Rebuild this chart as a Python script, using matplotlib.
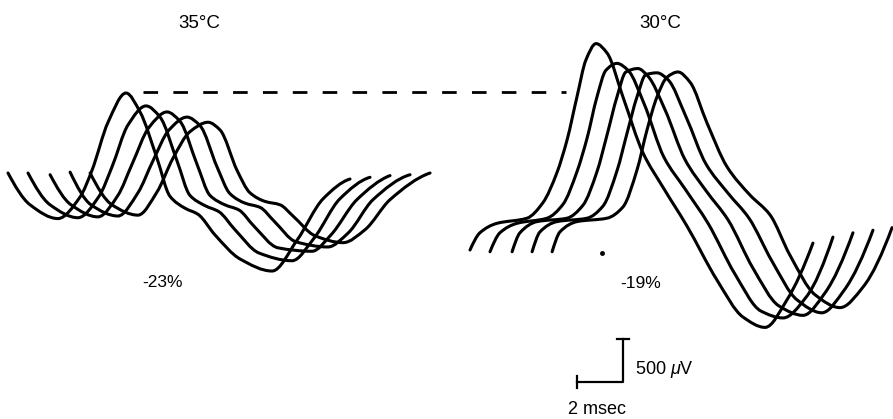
import numpy as np
import matplotlib
matplotlib.use("Agg")
import matplotlib.pyplot as plt
from matplotlib.path import Path
from matplotlib.patches import PathPatch

plt.rcParams['font.family'] = ['Liberation Sans', 'DejaVu Sans']
plt.rcParams['mathtext.fontset'] = 'custom'
plt.rcParams['mathtext.rm'] = 'Liberation Sans'
plt.rcParams['mathtext.it'] = 'Liberation Sans:italic'
plt.rcParams['lines.scale_dashes'] = False

# 35 C traces: time (msec) and voltage (uV), 5 successive sweeps
t35 = [
    [0.00, 0.96, 2.17, 3.13, 3.65, 4.35, 5.13, 5.74, 6.48, 7.04, 7.70, 8.26, 9.00, 10.09, 11.48, 12.57, 13.70, 14.87],
    [0.87, 1.83, 3.04, 3.96, 4.52, 5.22, 6.00, 6.61, 7.35, 7.91, 8.57, 9.17, 9.87, 10.91, 12.35, 13.30, 14.43, 15.74],
    [1.83, 2.74, 3.91, 4.78, 5.39, 6.13, 6.91, 7.48, 8.22, 8.78, 9.43, 10.04, 10.70, 11.74, 13.22, 14.04, 15.17, 16.61],
    [2.70, 3.61, 4.78, 5.65, 6.30, 7.00, 7.78, 8.35, 9.09, 9.65, 10.30, 10.96, 11.57, 12.52, 13.91, 14.78, 15.87, 17.48],
    [3.57, 4.52, 5.65, 6.48, 7.17, 7.91, 8.70, 9.22, 9.96, 10.52, 11.17, 11.83, 12.39, 13.35, 14.57, 15.52, 16.61, 18.35],
]
uv35 = [
    [0, -370, -530, -280, 30, 590, 930, 710, 170, -270, -410, -480, -720, -1000, -1140, -780, -300, -70],
    [0, -370, -520, -270, 70, 560, 780, 650, 140, -260, -380, -450, -660, -930, -1020, -760, -300, -50],
    [-20, -370, -510, -260, 100, 530, 710, 600, 100, -260, -370, -430, -620, -870, -910, -720, -310, -30],
    [10, -370, -500, -230, 140, 500, 650, 550, 70, -240, -350, -400, -560, -800, -860, -700, -310, -20],
    [0, -370, -490, -220, 170, 480, 590, 500, 30, -230, -330, -370, -500, -730, -810, -660, -310, 0],
]

# 30 C traces
t30 = [
    [0.00, 0.43, 1.17, 2.48, 3.17, 3.78, 4.22, 4.65, 5.04, 5.48, 5.96, 6.65, 7.52, 8.39, 9.43, 10.74, 11.87, 12.83, 13.78, 14.91],
    [0.87, 1.30, 2.04, 3.35, 4.04, 4.65, 5.09, 5.52, 5.91, 6.39, 6.87, 7.57, 8.43, 9.35, 10.35, 11.52, 12.65, 13.61, 14.61, 15.78],
    [1.83, 2.17, 2.91, 4.22, 4.91, 5.52, 5.96, 6.39, 6.78, 7.30, 7.74, 8.48, 9.35, 10.26, 11.22, 12.30, 13.43, 14.48, 15.43, 16.65],
    [2.70, 3.04, 3.78, 5.09, 5.78, 6.39, 6.83, 7.26, 7.65, 8.13, 8.61, 9.39, 10.26, 11.22, 12.13, 13.13, 14.22, 15.30, 16.26, 17.52],
    [3.57, 3.91, 4.65, 5.96, 6.65, 7.26, 7.70, 8.13, 8.57, 9.04, 9.57, 10.30, 11.17, 12.17, 13.04, 13.91, 15.00, 16.09, 17.09, 18.35],
]
uv30 = [
    [0, 200, 310, 370, 550, 900, 1280, 1780, 2210, 2400, 2290, 1780, 1130, 730, 280, -350, -780, -900, -580, 80],
    [-20, 200, 310, 370, 530, 910, 1300, 1780, 2090, 2170, 2090, 1700, 1080, 710, 310, -280, -710, -790, -550, 150],
    [-20, 200, 330, 370, 520, 910, 1340, 1780, 2070, 2110, 2020, 1630, 1050, 690, 350, -210, -650, -760, -500, 200],
    [-20, 210, 330, 370, 510, 920, 1360, 1780, 2040, 2060, 1980, 1550, 1000, 660, 370, -130, -580, -730, -470, 230],
    [-20, 210, 330, 370, 500, 930, 1400, 1780, 2010, 2070, 1950, 1480, 970, 640, 410, -60, -520, -670, -430, 260],
]

temp_labels = ["35°C", "30°C"]
change_labels = ["-23%", "-19%"]
bar_ms = 2
bar_uv = 500

PX_MS = 23.0          # pixels per msec (from the 2 msec bar)
PX_UV = 43.0 / 500    # pixels per uV (from the 500 uV bar)
W, H = 893, 419


def smooth_path(t, v):
    # monotone cubic (pchip) segments drawn as bezier curves
    t = np.asarray(t, float)
    v = np.asarray(v, float)
    h = np.diff(t)
    d = np.diff(v) / h
    m = np.zeros_like(v)
    for k in range(1, len(v) - 1):
        if d[k - 1] * d[k] > 0:
            w1 = 2 * h[k] + h[k - 1]
            w2 = h[k] + 2 * h[k - 1]
            m[k] = (w1 + w2) / (w1 / d[k - 1] + w2 / d[k])
    for i, j, s in [(0, 1, 0), (-1, -2, -1)]:
        hs, ho = h[s], h[s + 1] if s == 0 else h[s - 1]
        ds, do = d[s], d[s + 1] if s == 0 else d[s - 1]
        e = ((2 * hs + ho) * ds - hs * do) / (hs + ho)
        if np.sign(e) != np.sign(ds):
            e = 0
        m[i] = e
    verts = [(t[0], v[0])]
    codes = [Path.MOVETO]
    for k in range(len(t) - 1):
        verts += [(t[k] + h[k] / 3, v[k] + m[k] * h[k] / 3),
                  (t[k + 1] - h[k] / 3, v[k + 1] - m[k + 1] * h[k] / 3),
                  (t[k + 1], v[k + 1])]
        codes += [Path.CURVE4] * 3
    return Path(verts, codes)


fig = plt.figure(figsize=(W / 100, H / 100), dpi=100)


def panel(x_px, w_px, ox, oy):
    ax = fig.add_axes([x_px / W, 0, w_px / W, 1])
    ax.set_xlim((x_px - ox) / PX_MS, (x_px + w_px - ox) / PX_MS)
    ax.set_ylim(-(H - oy) / PX_UV, oy / PX_UV)
    ax.axis('off')
    return ax


ax35 = panel(0, 446, 8, 173)
ax30 = panel(446, 447, 470, 250)

for ax, ts, vs in [(ax35, t35, uv35), (ax30, t30, uv30)]:
    for t, v in zip(ts, vs):
        ax.add_patch(PathPatch(smooth_path(t, v), fill=False, ec='black',
                               lw=2.2, capstyle='round', joinstyle='round'))

# dashed reference at the 35 C peak
ax35.plot([5.87, 24.26], [max(uv35[0]) + 10] * 2, color='black', lw=2.0,
          dashes=(10.5, 11), clip_on=False)

ax35.text(8.30, 1739, temp_labels[0], ha='center', va='center', fontsize=13.5)
ax30.text(8.26, 2634, temp_labels[1], ha='center', va='center', fontsize=13.5)
ax35.text(6.70, -1279, change_labels[0], ha='center', va='center', fontsize=12.5)
ax30.text(7.43, -395, change_labels[1], ha='center', va='center', fontsize=12.5)

# scale bar
x0, y0 = 4.65, -1535
ax30.plot([x0, x0 + bar_ms, x0 + bar_ms], [y0, y0, y0 + bar_uv], color='black', lw=1.6)
ax30.plot([x0 + bar_ms - 0.26, x0 + bar_ms + 0.26], [y0 + bar_uv] * 2, color='black', lw=1.6)
ax30.plot([x0, x0], [y0 - 70, y0 + 70], color='black', lw=1.6)
ax30.text(7.17, -1384, f"{bar_uv} $\\mu$V", ha='left', va='center', fontsize=13)
ax30.text(4.26, -1849, f"{bar_ms} msec", ha='left', va='center', fontsize=13)

# small speck in the original
ax30.plot([5.74], [-35], 'o', color='black', ms=2.5)

fig.savefig('out.png', dpi=100)
